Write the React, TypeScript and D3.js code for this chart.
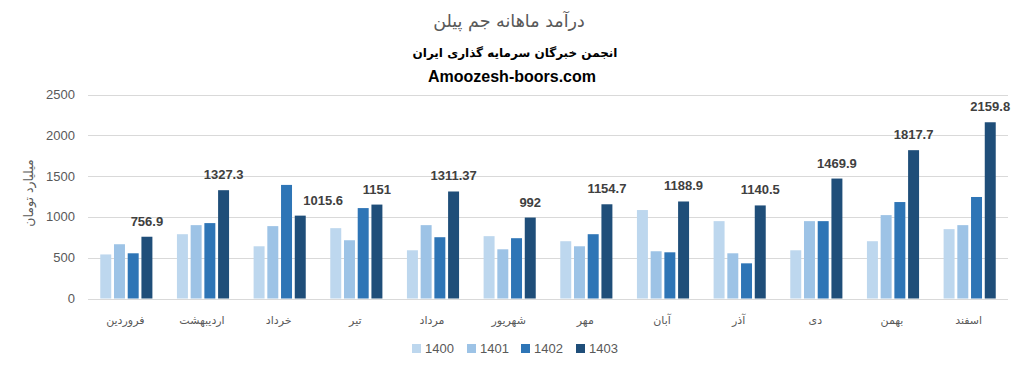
import React from "react";
import * as d3 from "d3";

const months = ["فروردین", "اردیبهشت", "خرداد", "تیر", "مرداد", "شهریور", "مهر", "آبان", "آذر", "دی", "بهمن", "اسفند"];
const seriesNames = ["1400", "1401", "1402", "1403"];
const v1400 = [540, 788, 640, 862, 591, 764, 702, 1084, 948, 591, 702, 850];
const v1401 = [665, 899, 887, 714, 899, 603, 640, 579, 554, 948, 1022, 899];
const v1402 = [554, 924, 1392, 1108, 751, 739, 788, 566, 431, 948, 1182, 1244];
const v1403 = [756.9, 1327.3, 1015.6, 1151, 1311.37, 992, 1154.7, 1188.9, 1140.5, 1469.9, 1817.7, 2159.8];
const yTicks = [0, 500, 1000, 1500, 2000, 2500];
const colors = ["#BDD7EE", "#9DC3E6", "#2E75B6", "#1F4E79"];

const W = 1022;
const H = 371;
const fa = "'DejaVu Sans', 'Noto Sans', sans-serif";
const num = "'Liberation Sans', Arial, sans-serif";

export default function App() {
  const series = [v1400, v1401, v1402, v1403];
  const x0 = d3.scaleBand<string>().domain(months).range([88, 1008]).paddingInner(0.32).paddingOuter(0.16);
  const x1 = d3.scaleBand<string>().domain(seriesNames).range([0, x0.bandwidth()]).paddingInner(0.2);
  const y = d3.scaleLinear().domain([0, 2500]).range([298.5, 94.5]);

  const legendX = [412, 467, 521, 576];

  const labelPos = (m: string, i: number) => {
    const base = x0(m) as number;
    let cx = base + (x1("1403") as number) + x1.bandwidth() / 2;
    const by = y(v1403[i]) - 11;
    const txt = String(v1403[i]);
    const halfW = txt.length * 3.7;
    const prevRight = base + (x1("1402") as number) + x1.bandwidth();
    if (y(v1402[i]) < by + 2 && cx - halfW < prevRight + 9) {
      cx = prevRight + 9 + halfW;
    }
    return { cx, by, txt };
  };

  return (
    <div style={{ position: "absolute", left: 0, top: 0 }}>
      <svg width={W} height={H} style={{ display: "block", background: "#fff" }}>
        <rect x={0} y={0} width={W} height={H} fill="#fff" />
        <text x={509} y={27} textAnchor="middle" fontFamily={fa} fontSize={17.5} fill="#595959">درآمد ماهانه جم پیلن</text>
        <text x={515} y={57} textAnchor="middle" fontFamily={fa} fontSize={12} fontWeight="bold" fill="#000">انجمن خبرگان سرمایه گذاری ایران</text>
        <text x={512} y={82} textAnchor="middle" fontFamily={num} fontSize={16} fontWeight="bold" fill="#000">Amoozesh-boors.com</text>

        {yTicks.map((t) => (
          <g key={t}>
            <line x1={88} x2={1008} y1={Math.round(y(t)) + 0.5} y2={Math.round(y(t)) + 0.5} stroke="#d9d9d9" strokeWidth={1} />
            <text x={75} y={y(t) + 4.5} textAnchor="end" fontFamily={num} fontSize={13} fill="#595959">{t}</text>
          </g>
        ))}

        <text transform={`translate(33,193) rotate(-90)`} textAnchor="middle" fontFamily={fa} fontSize={12.5} fill="#595959">میلیارد تومان</text>

        {months.map((m, i) => {
          const lp = labelPos(m, i);
          return (
            <g key={m}>
              {series.map((s, j) => (
                <rect
                  key={j}
                  x={(x0(m) as number) + (x1(seriesNames[j]) as number)}
                  y={y(s[i])}
                  width={x1.bandwidth()}
                  height={y(0) - y(s[i])}
                  fill={colors[j]}
                />
              ))}
              <text x={lp.cx} y={lp.by} textAnchor="middle" fontFamily={num} fontSize={13} fontWeight="bold" fill="#404040">
                {lp.txt}
              </text>
              <text x={(x0(m) as number) + x0.bandwidth() / 2 - 1} y={324} textAnchor="middle" fontFamily={fa} fontSize={11} fill="#595959">{m}</text>
            </g>
          );
        })}

        {seriesNames.map((s, j) => (
          <g key={s}>
            <rect x={legendX[j]} y={344} width={9} height={9} fill={colors[j]} />
            <text x={legendX[j] + 13} y={353} fontFamily={num} fontSize={13} fill="#595959">{s}</text>
          </g>
        ))}
      </svg>
    </div>
  );
}
